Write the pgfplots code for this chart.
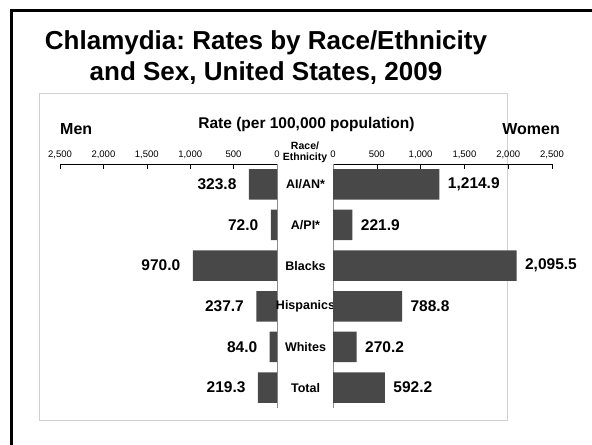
\documentclass[border=0pt]{standalone}
\usepackage{fontspec}
\setmainfont{Liberation Sans}
\usepackage{pgfplots}
\pgfplotsset{compat=1.18}
\definecolor{barc}{RGB}{72,72,72}
\definecolor{boxc}{RGB}{210,210,210}
\definecolor{linec}{RGB}{140,140,140}
\pgfplotsset{pyr/.style={
  scale only axis, height=244bp,
  xbar, bar width=0.75, bar shift=0pt,
  ymin=-0.5, ymax=5.5, clip=false,
  separate axis lines,
  axis x line*=top,
  x axis line style={black, line width=0.6bp},
  y axis line style={linec, line width=0.9bp},
  tick align=inside, major tick length=5bp,
  xtick style={black, line width=0.6bp},
  ytick style={draw=none},
  tick label style={font=\fontsize{9.5bp}{11bp}\selectfont},
  xticklabel style={text depth=2bp, yshift=0.5bp},
  /pgf/number format/assume math mode=true,
  scaled x ticks=false,
  every node near coord/.append style={font=\fontsize{15.5bp}{18bp}\selectfont\bfseries, text=black},
}}
\begin{document}
\frenchspacing
\begin{tikzpicture}[x=1bp,y=1bp]
\path[use as bounding box] (0,0) rectangle (592,445);
\draw[line width=3bp] (11.5,0) -- (11.5,434.5) -- (592,434.5);
\draw[boxc, line width=1bp] (39.5,24) rectangle (507,351);
\node[anchor=base, inner sep=0, font=\fontsize{26bp}{30bp}\selectfont\bfseries] at (266,395) {Chlamydia: Rates by Race/Ethnicity};
\node[anchor=base, inner sep=0, font=\fontsize{26bp}{30bp}\selectfont\bfseries] at (266,364) {and Sex, United States, 2009};
\node[anchor=base west, inner sep=0, font=\fontsize{16bp}{19bp}\selectfont\bfseries] at (60,310) {Men};
\node[anchor=base east, inner sep=0, font=\fontsize{16bp}{19bp}\selectfont\bfseries] at (560,310) {Women};
\node[anchor=base, inner sep=0, font=\fontsize{15.5bp}{18bp}\selectfont\bfseries] at (306.5,316) {Rate (per 100,000 population)};
\node[anchor=base, inner sep=0, font=\fontsize{10.5bp}{12bp}\selectfont\bfseries] at (305,295) {Race/};
\node[anchor=base, inner sep=0, font=\fontsize{10.5bp}{12bp}\selectfont\bfseries] at (305,284) {Ethnicity};

\begin{axis}[pyr,
  at={(60bp,281bp)}, anchor=north west, width=217bp,
  xmin=-2500, xmax=0,
  axis y line*=right,
  xtick={-2500,-2000,-1500,-1000,-500,0},
  xticklabels={{2,500},{2,000},{1,500},{1,000},500,0},
  ytick=\empty,
  point meta=explicit,
  nodes near coords={\pgfmathprintnumber[fixed,fixed zerofill,precision=1,assume math mode=true]{\pgfplotspointmeta}},
  every node near coord/.append style={anchor=east, xshift=-9bp},
]
\addplot[fill=barc, draw=none] coordinates {
  (-323.8,5) [323.8]
  (-72.0,4) [72.0]
  (-970.0,3) [970.0]
  (-237.7,2) [237.7]
  (-84.0,1) [84.0]
  (-219.3,0) [219.3]
};
\end{axis}

\begin{axis}[pyr,
  at={(333bp,281bp)}, anchor=north west, width=219bp,
  xmin=0, xmax=2500,
  axis y line*=left,
  xtick={0,500,1000,1500,2000,2500},
  /pgf/number format/1000 sep={,},
  ytick={0,1,2,3,4,5},
  yticklabels={Total,Whites,Hispanics,Blacks,A/PI*,AI/AN*},
  yticklabel style={anchor=center, xshift=-27.5bp, font=\fontsize{12.5bp}{14bp}\selectfont\bfseries},
  point meta=x,
  nodes near coords={\pgfmathprintnumber[fixed,fixed zerofill,precision=1,1000 sep={,},assume math mode=true]{\pgfplotspointmeta}},
  every node near coord/.append style={anchor=west, xshift=5bp},
]
\addplot[fill=barc, draw=none] coordinates {
  (1214.9,5)
  (221.9,4)
  (2095.5,3)
  (788.8,2)
  (270.2,1)
  (592.2,0)
};
\end{axis}
\end{tikzpicture}
\end{document}
